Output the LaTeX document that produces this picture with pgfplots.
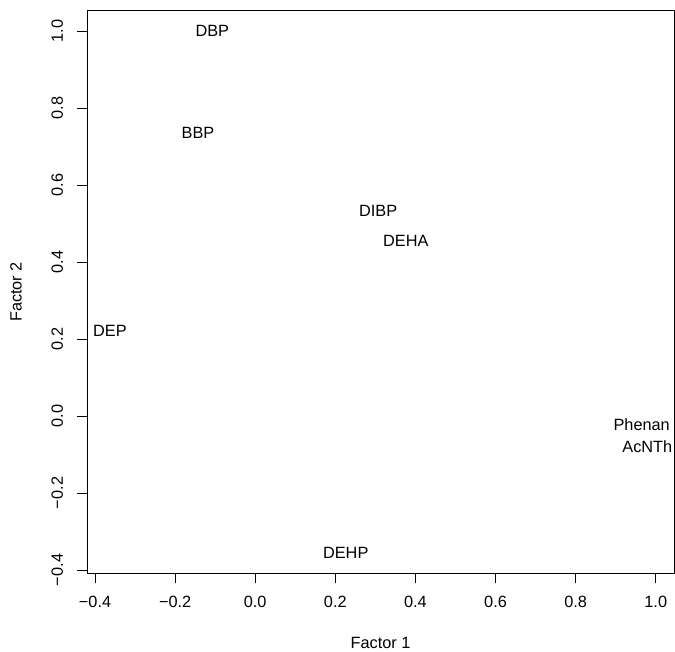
\documentclass[border=0pt]{standalone}
\usepackage{fontspec}
\setmainfont{Liberation Sans}
\usepackage{pgfplots}
\usepackage{pgfplotstable}
\pgfplotsset{compat=1.18}
\pgfplotstableread{
x y label
-0.107 1.000 DBP
-0.143 0.736 BBP
0.307 0.532 DIBP
0.376 0.456 DEHA
-0.3626 0.2216 DEP
0.965 -0.023 Phenan
0.979 -0.080 AcNTh
0.226 -0.3545 DEHP
}\pts
\begin{document}
\fontsize{16.3}{19}\selectfont
\begin{tikzpicture}[x=1pt,y=1pt]
\useasboundingbox (-87,-78.7) rectangle (588,573.3);
\begin{axis}[
  at={(0,0)}, anchor=south west,
  scale only axis, width=587pt, height=562.6pt,
  xmin=-0.42, xmax=1.0456, ymin=-0.4086, ymax=1.0527,
  xtick={-0.4,-0.2,0,0.2,0.4,0.6,0.8,1.0},
  xticklabels={−0.4,−0.2,0.0,0.2,0.4,0.6,0.8,1.0},
  ytick={-0.4,-0.2,0,0.2,0.4,0.6,0.8,1.0},
  yticklabels={−0.4,−0.2,0.0,0.2,0.4,0.6,0.8,1.0},
  tick pos=left, tick align=outside, major tick length=10pt,
  axis line style={black, line width=0.8pt},
  tick style={black, line width=0.8pt},
  xticklabel style={font=\fontsize{16.3}{19}\selectfont, anchor=north, yshift=-7pt},
  yticklabel style={font=\fontsize{16.3}{19}\selectfont, xshift=-14pt, rotate=90, anchor=base},
  xlabel={Factor 1}, ylabel={Factor 2},
  label style={font=\fontsize{16.3}{19}\selectfont},
  xlabel style={at={(axis description cs:0.5,-0.1239)}, anchor=center},
  ylabel style={at={(axis description cs:-0.121,0.5)}, anchor=center},
  clip=false,
]
\addplot[only marks, mark=none, nodes near coords, point meta=explicit symbolic,
  every node near coord/.append style={anchor=center, inner sep=0pt, font=\fontsize{16.3}{19}\selectfont}]
  table[x=x, y=y, meta=label] {\pts};
\end{axis}
\end{tikzpicture}
\end{document}
